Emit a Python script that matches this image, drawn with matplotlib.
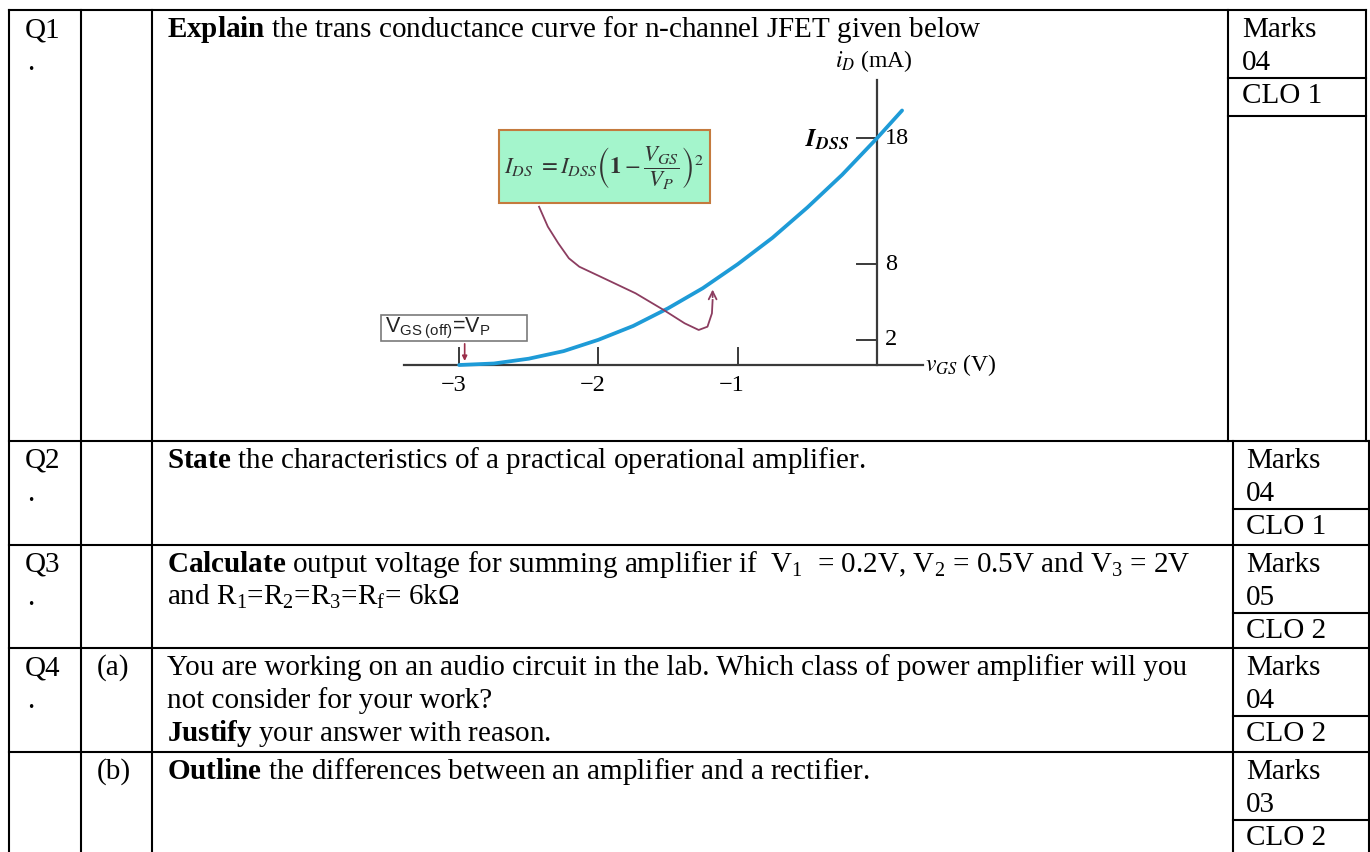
import matplotlib
matplotlib.use("Agg")
import matplotlib.pyplot as plt
from matplotlib.patches import Rectangle

# === data ===
q_labels = ["Q1", "Q2", "Q3", "Q4", ""]
part_labels = ["", "", "", "(a)", "(b)"]
question_lines = [
    [r"$\mathbf{Explain}$ the trans conductance curve for n-channel JFET given below"],
    [r"$\mathbf{State}$ the characteristics of a practical operational amplifier."],
    [r"$\mathbf{Calculate}$ output voltage for summing amplifier if  V$_1$  = 0.2V, V$_2$ = 0.5V and V$_3$ = 2V",
     "and R$_1$=R$_2$=R$_3$=R$_\\mathrm{f}$= 6kΩ"],
    ["You are working on an audio circuit in the lab. Which class of power amplifier will you",
     "not consider for your work?",
     r"$\mathbf{Justify}$ your answer with reason."],
    [r"$\mathbf{Outline}$ the differences between an amplifier and a rectifier."],
]
marks = ["04", "04", "05", "04", "03"]
clos = ["CLO 1", "CLO 1", "CLO 2", "CLO 2", "CLO 2"]

# transconductance curve
vgs = [-3.0, -2.75, -2.5, -2.25, -2.0, -1.75, -1.5, -1.25, -1.0, -0.75, -0.5, -0.25, 0.0, 0.18]
i_d = [0.0, 0.12, 0.5, 1.1, 2.0, 3.1, 4.5, 6.1, 8.0, 10.1, 12.5, 15.1, 18.0, 20.2]
x_ticks = [-3, -2, -1]
x_tick_labels = ["\u22123", "\u22122", "\u22121"]
y_ticks = [2, 8, 18]
y_tick_labels = ["2", "8", "18"]

# callout curve from the formula box to the curve (V, mA)
callout_v = [-2.426, -2.363, -2.288, -2.212, -2.137, -1.985, -1.733, -1.532, -1.381, -1.28, -1.217, -1.185, -1.18]
callout_i = [12.56, 10.98, 9.66, 8.47, 7.8, 7.01, 5.69, 4.37, 3.31, 2.78, 3.04, 4.1, 5.16]
callout_tip = (-1.18, 6.21)

# === style ===
plt.rcParams["font.family"] = "Liberation Serif"
plt.rcParams["mathtext.fontset"] = "custom"
plt.rcParams["mathtext.rm"] = "Liberation Serif"
plt.rcParams["mathtext.it"] = "Liberation Serif:italic"
plt.rcParams["mathtext.bf"] = "Liberation Serif:bold"
plt.rcParams["mathtext.sf"] = "Liberation Sans"

FS = 21
W, H = 1370, 852

fig = plt.figure(figsize=(W / 100, H / 100), dpi=100)
ax = fig.add_axes([0, 0, 1, 1])
ax.set_xlim(0, W)
ax.set_ylim(H, 0)
ax.axis("off")

# === table grid (pixel layout) ===
row_tops = [10, 441, 545, 648, 752]
x_left, x_q, x_part = 9, 81, 152
x_mark_top, x_right_top = 1228.5, 1366.5
x_mark_bot, x_right_bot = 1233, 1369
lw = 1.5

ax.plot([x_left, x_right_top], [10, 10], color="black", lw=lw)
for top in row_tops[1:]:
    ax.plot([x_left, x_right_bot], [top, top], color="black", lw=lw)
for x in (x_left, x_q, x_part):
    ax.plot([x, x], [10, H], color="black", lw=lw)
ax.plot([x_mark_top, x_mark_top], [10, 441], color="black", lw=lw)
ax.plot([x_right_top, x_right_top], [10, 441], color="black", lw=lw)
ax.plot([x_mark_bot, x_mark_bot], [441, H], color="black", lw=lw)
ax.plot([x_right_bot, x_right_bot], [441, H], color="black", lw=lw)
# sub-lines in the marks column
ax.plot([x_mark_top, x_right_top], [78, 78], color="black", lw=lw)
ax.plot([x_mark_top, x_right_top], [116, 116], color="black", lw=lw)
for top in row_tops[1:]:
    ax.plot([x_mark_bot, x_right_bot], [top + 68, top + 68], color="black", lw=lw)


def put(x, y, s, **kw):
    ax.text(x, y, s, fontsize=FS, va="baseline", ha="left", **kw)


for i, top in enumerate(row_tops):
    if q_labels[i]:
        put(25, top + 27, q_labels[i])
        put(27, top + 60, ".")
    if part_labels[i]:
        put(97, top + 27, part_labels[i])
    for k, line in enumerate(question_lines[i]):
        put(167, top + 27 + 33 * k, line)
    mx = 1242 if i == 0 else 1246
    put(mx, top + 27, "Marks")
    put(mx, top + 60, marks[i])
    put(mx, top + 93, clos[i])

# === embedded transconductance chart ===
X0, PXV = 877, 139.3
Y0, PXI = 365, 12.6
px_l, px_r, py_t, py_b = 360, 1040, 40, 410
cax = fig.add_axes([px_l / W, 1 - py_b / H, (px_r - px_l) / W, (py_b - py_t) / H])
cax.set_xlim((px_l - X0) / PXV, (px_r - X0) / PXV)
cax.set_ylim((Y0 - py_b) / PXI, (Y0 - py_t) / PXI)
cax.axis("off")
cax.patch.set_alpha(0)

axis_col = "#3a3a3a"
cax.plot([-3.396, 0.33], [0, 0], color=axis_col, lw=1.6)
cax.plot([0, 0], [0, 22.6], color=axis_col, lw=1.6)
for v, lab in zip(x_ticks, x_tick_labels):
    cax.plot([v, v], [0, 1.35], color=axis_col, lw=1.4)
    cax.text(v - 0.04, -1.6, lab, fontsize=17.5, ha="center", va="center")
for y, lab in zip(y_ticks, y_tick_labels):
    cax.plot([-0.145, 0], [y, y], color=axis_col, lw=1.4)
    cax.text(0.055, y, lab, fontsize=17.5, ha="left", va="center")

cax.text(-0.02, 24.1, r"$i_D$ (mA)", fontsize=17, ha="center", va="center", math_fontfamily="stix")
cax.text(0.345, 0, r"$v_{GS}$ (V)", fontsize=17, ha="left", va="center", math_fontfamily="stix")
cax.text(-0.2, 17.9, r"$\mathbfit{I}_{\mathbfit{DSS}}$", fontsize=18, ha="right", va="center",
         math_fontfamily="stix")

cax.plot(vgs, i_d, color="#1e9bd7", lw=2.7, solid_capstyle="round", solid_joinstyle="round")

# formula box
cax.add_patch(Rectangle((-2.71, 12.86), 1.511, 5.79, facecolor="#a4f5cc",
                        edgecolor="#c47a3e", lw=1.5, zorder=3))
cax.text(-1.96, 15.6, r"$I_{DS}\ = I_{DSS}\left(\mathbf{1} - \dfrac{V_{GS}}{V_P}\right)^2$",
         fontsize=16.5, ha="center", va="center", color="#333333", math_fontfamily="stix", zorder=4)

callout_col = "#8c3d60"
cax.plot(callout_v, callout_i, color=callout_col, lw=1.3, solid_joinstyle="round")
cax.annotate("", xy=callout_tip, xytext=(callout_v[-1], callout_i[-1]),
             arrowprops=dict(arrowstyle="->", color=callout_col, lw=1.3, mutation_scale=14))

# pinch-off label box
cax.add_patch(Rectangle((-3.562, 1.90), 1.05, 2.07, facecolor="white",
                        edgecolor="#7a7a7a", lw=1.2, zorder=3))
cax.text(-3.53, 2.95, r"V$_{\mathsf{GS\ (off)}}$=V$_{\mathsf{P}}$", fontsize=15.5, ha="left",
         va="center", family="Liberation Sans", color="#222222", zorder=4)
cax.annotate("", xy=(-2.96, 0.1), xytext=(-2.96, 1.9),
             arrowprops=dict(arrowstyle="-|>", color="#9b2f4a", lw=1.2, mutation_scale=7))

fig.savefig("out.png", dpi=100)
